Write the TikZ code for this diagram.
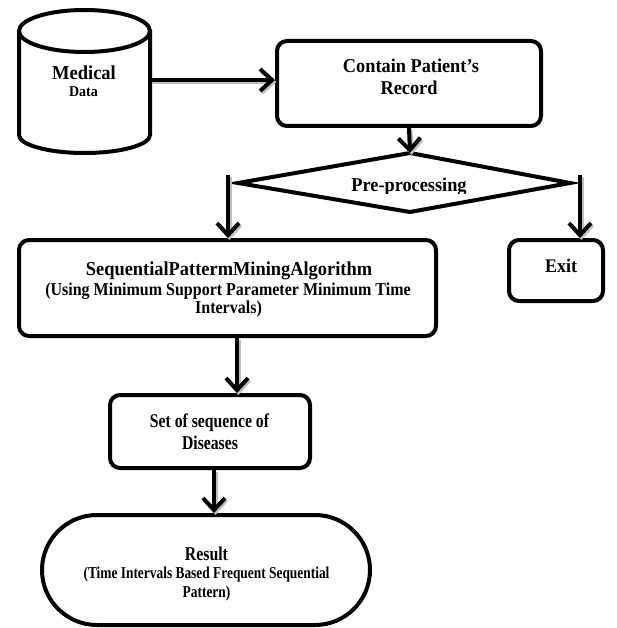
\documentclass[tikz,border=0pt]{standalone}
\usepackage{fontspec}
\setmainfont{Liberation Serif}
\usetikzlibrary{arrows.meta}
\tikzset{
  x=1pt, y=1pt,
  box/.style={draw, line width=4pt, rounded corners=10pt, fill=white, inner sep=0pt},
  outline/.style={draw, line width=4pt, fill=white},
  flow/.style={line width=4pt, -{Straight Barb[length=12pt,width=22pt]}},
  flowshade/.style={line width=4pt, draw=gray!50, -{Straight Barb[length=12pt,width=22pt]},
    transform canvas={xshift=1.5pt,yshift=-2pt}},
  txt/.style={inner sep=0pt, anchor=base, font=\bfseries},
}
\newcommand{\fs}[1]{\fontsize{#1}{#1}\selectfont}
\newcommand{\tall}[2]{\scalebox{1}[#1]{#2}}
\begin{document}
\begin{tikzpicture}
\useasboundingbox (0,0) rectangle (617,-628);

% database cylinder
\node[minimum width=131pt, minimum height=140pt, inner sep=0pt] (db) at (84.5,-80) {};
\draw[outline] (19,-31) -- (19,-135) arc[start angle=180, end angle=360, x radius=65.5pt, y radius=18pt] -- (150,-31);
\draw[outline] (84.5,-31) ellipse[x radius=65.5pt, y radius=21pt];

% boxes
\node[box, minimum width=264pt, minimum height=85pt] (contain) at (409,-83.5) {};
\node[box, minimum width=417pt, minimum height=96pt] (spm) at (227.5,-288) {};
\node[box, minimum width=94pt, minimum height=61pt] (exit) at (556,-270.5) {};
\node[box, minimum width=200pt, minimum height=73pt] (set) at (210,-431.5) {};
\node[outline, rounded corners=55pt, minimum width=328pt, minimum height=110pt, inner sep=0pt] (result) at (206,-570) {};

% decision diamond
\coordinate (dl) at (238,-183);
\coordinate (dr) at (570,-183);
\coordinate (dtop) at (410,-153);
\coordinate (dbot) at (410,-212);
\coordinate (ltick) at (228,-175);
\coordinate (rtick) at (580,-175);
\draw[outline] (dtop) -- (dr) -- (dbot) -- (dl) -- cycle;

% connector shadows
\draw[flowshade] (db.east) -- (db.east -| contain.west);
\draw[flowshade] (contain.south) -- (dtop);
\draw[flowshade] (ltick) -- (ltick |- spm.north);
\draw[flowshade] (rtick) -- (rtick |- exit.north);
\draw[flowshade] ([xshift=9.5pt]spm.south) -- ([xshift=27pt]set.north);
\draw[flowshade] ([xshift=4pt]set.south) -- ([xshift=8pt]result.north);

% connectors
\draw[flow] (db.east) -- (db.east -| contain.west);
\draw[flow] (contain.south) -- (dtop);
\draw[flow] (ltick) -- (ltick |- spm.north);
\draw[flow] (rtick) -- (rtick |- exit.north);
\draw[flow] ([xshift=9.5pt]spm.south) -- ([xshift=27pt]set.north);
\draw[flow] ([xshift=4pt]set.south) -- ([xshift=8pt]result.north);

% texts
\node[txt, font=\bfseries\fs{18.5}] (t-med) at (84,-80) {\tall{1.07}{Medical}};
\node[txt, font=\bfseries\fs{14}] (t-data) at (83.5,-97) {\tall{1.07}{Data}};
\node[txt, font=\bfseries\fs{18.3}] (t-c1) at (411,-73) {\tall{1.07}{Contain Patient’s}};
\node[txt, font=\bfseries\fs{18.3}] (t-c2) at (409,-95) {\tall{1.07}{Record}};
\begin{scope}
  \clip (300,-150) rectangle (520,-193.5);
  \node[txt, font=\bfseries\fs{18.3}] (t-pre) at (409,-192) {\tall{1.07}{Pre-processing}};
\end{scope}
\node[txt, font=\bfseries\fs{18}] (t-exit) at (561,-272) {\tall{1.07}{Exit}};
\node[txt, font=\bfseries\fs{18.4}] (t-s1) at (229,-275) {\tall{1.07}{SequentialPattermMiningAlgorithm}};
\node[txt, font=\bfseries\fs{16}] (t-s2) at (228,-295) {\tall{1.13}{(Using Minimum Support Parameter Minimum Time}};
\node[txt, font=\bfseries\fs{16}] (t-s3) at (228.5,-313) {\tall{1.13}{Intervals)}};
\node[txt, font=\bfseries\fs{15.7}] (t-set1) at (209.5,-427) {\tall{1.24}{Set of sequence of}};
\node[txt, font=\bfseries\fs{15.7}] (t-set2) at (210,-449) {\tall{1.24}{Diseases}};
\node[txt, font=\bfseries\fs{15.8}] (t-r1) at (206.5,-560) {\tall{1.24}{Result}};
\node[txt, font=\bfseries\fs{13.4}] (t-r2) at (206.5,-578) {\tall{1.24}{(Time Intervals Based Frequent Sequential}};
\node[txt, font=\bfseries\fs{13.4}] (t-r3) at (206.5,-597) {\tall{1.24}{Pattern)}};
\end{tikzpicture}
\end{document}
